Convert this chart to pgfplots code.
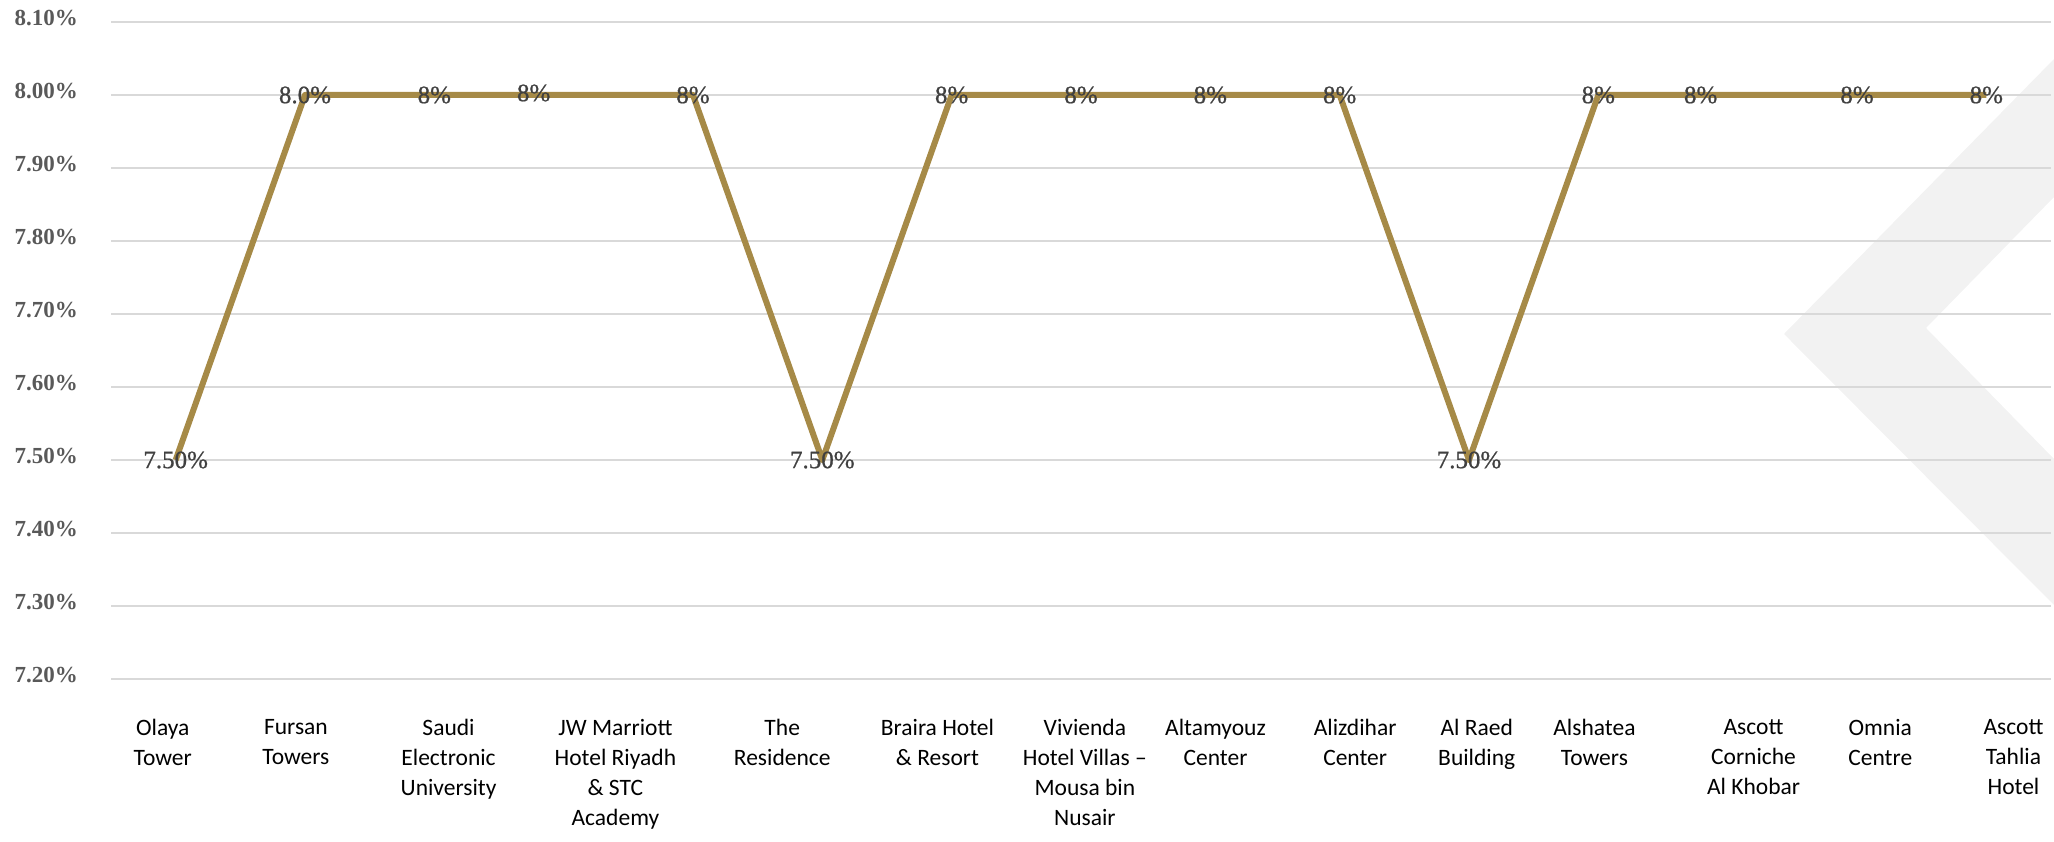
\documentclass[border=0pt]{standalone}
\usepackage{pgfplots}
\pgfplotsset{compat=1.18}
\usepackage{fontspec}
\setmainfont{Liberation Serif}
\newfontfamily\catfont{Carlito}
\newfontfamily\lblfont[BoldFont={Liberation Serif}, BoldFeatures={FakeBold=0.8}]{Liberation Serif}
\definecolor{gold}{HTML}{A68A47}
\definecolor{gridgray}{HTML}{D9D9D9}
\definecolor{ticktxt}{HTML}{595959}
\definecolor{lbltxt}{HTML}{404040}
\definecolor{chev}{HTML}{F2F2F2}

\begin{document}
\begin{tikzpicture}[x=1pt,y=1pt]
% watermark chevron behind the plot
\fill[chev] (2054,782) -- (1784,507) -- (2054,236) -- (2054,382) -- (1926,513) -- (2054,644) -- cycle;

\begin{axis}[
    at={(111pt,162pt)}, anchor=south west,
    width=1940pt, height=657pt, scale only axis,
    xmin=-0.5, xmax=14.5,
    ymin=7.2, ymax=8.1,
    clip=false,
    axis line style={draw=none},
    tick style={draw=none},
    ymajorgrids,
    major grid style={gridgray, line width=2pt},
    ytick={7.2,7.3,7.4,7.5,7.6,7.7,7.8,7.9,8.0,8.1},
    yticklabels={7.20\%,7.30\%,7.40\%,7.50\%,7.60\%,7.70\%,7.80\%,7.90\%,8.00\%,8.10\%},
    y tick label style={font=\fontsize{23}{27}\selectfont\bfseries, text=ticktxt,
        anchor=east, inner sep=0pt, xshift=-33pt, yshift=4pt},
    % category names sit where the reference has them, not on the points
    xtick={-0.10,0.93,2.11,3.40,4.69,5.89,7.03,8.04,9.12,10.06,10.97,12.20,13.18,14.21},
    xticklabels={
        {Olaya\\Tower},
        {Fursan\\Towers},
        {Saudi\\Electronic\\University},
        {JW Marriott\\Hotel Riyadh\\\& STC\\Academy},
        {The\\Residence},
        {Braira Hotel\\\& Resort},
        {Vivienda\\Hotel Villas –\\Mousa bin\\Nusair},
        {Altamyouz\\Center},
        {Alizdihar\\Center},
        {Al Raed\\Building},
        {Alshatea\\Towers},
        {Ascott\\Corniche\\Al Khobar},
        {Omnia\\Centre},
        {Ascott\\Tahlia\\Hotel}},
    x tick label style={font=\catfont\fontsize{23.5}{30}\selectfont, text=black,
        align=center, anchor=north, inner sep=0pt, yshift=-40pt},
]

% cap rate by property
\addplot[
    gold,
    line width=6pt,
    line join=round,
    mark=none,
    nodes near coords,
    point meta=explicit symbolic,
    every node near coord/.append style={font=\lblfont\bfseries\fontsize{25}{29}\selectfont,
        text=lbltxt, anchor=center, inner sep=0pt},
    coordinate style/.condition={\coordindex==3}{xshift=-30pt, yshift=2pt},
    coordinate style/.condition={\coordindex==12}{xshift=-27pt},
] coordinates {
    (0,7.5) [7.50\%]
    (1,8.0) [8.0\%]
    (2,8.0) [8\%]
    (3,8.0) [8\%]
    (4,8.0) [8\%]
    (5,7.5) [7.50\%]
    (6,8.0) [8\%]
    (7,8.0) [8\%]
    (8,8.0) [8\%]
    (9,8.0) [8\%]
    (10,7.5) [7.50\%]
    (11,8.0) [8\%]
    (12,8.0) [8\%]
    (13,8.0) [8\%]
    (14,8.0) [8\%]
};

\end{axis}
\pgfresetboundingbox
\path[use as bounding box] (0,0) rectangle (2054,841);
\end{tikzpicture}
\end{document}
